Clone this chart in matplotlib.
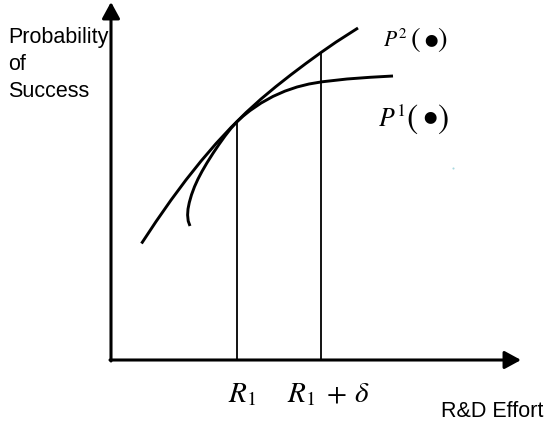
import matplotlib
matplotlib.use("Agg")
import matplotlib.pyplot as plt

plt.rcParams['mathtext.fontset'] = 'stix'
plt.rcParams['font.family'] = ['Liberation Sans', 'DejaVu Sans']

# R&D effort (x) and probability of success (y), diagram units
p2_effort = [30.5, 45, 60, 75, 90, 105, 120, 135, 150, 165, 180, 195, 210, 225, 247]
p2_prob = [116.5, 138.4, 159.9, 180.1, 198.9, 216.4, 232.5, 247.4, 261.0, 273.5,
           285.3, 296.6, 307.5, 317.9, 332]

p1_effort = [79, 77.2, 76.6, 77, 78.3, 80.5, 83.5, 87, 91, 96, 102, 108, 114, 120,
             126, 132, 139, 150, 162, 174, 186, 198, 211, 236, 259, 282]
p1_prob = [134, 139, 145, 151, 157.5, 165.2, 173.3, 181, 188.6, 197.2, 206.7, 215.6,
           224, 231.7, 238.3, 243.8, 249.4, 256.9, 263.6, 268.9, 273, 276, 278.2,
           281, 282.7, 284]

r_levels = [126, 210]
r_heights = [238.3, 307.5]
r_labels = [r'$R_1$', r'$R_1\;+\,\delta$']

x_max = 410
y_max = 358

fig = plt.figure(figsize=(5.48, 4.24), dpi=100)
ax = fig.add_axes([0, 0, 1, 1])
ax.set_xlim(-111, 437)
ax.set_ylim(-64, 360)
ax.axis('off')

arrow = dict(arrowstyle='-|>,head_length=0.55,head_width=0.3',
             lw=2.2, color='black', shrinkA=0, shrinkB=0, mutation_scale=18)
ax.annotate('', xy=(0, y_max), xytext=(0, -1), arrowprops=arrow)
ax.annotate('', xy=(x_max, 0), xytext=(-1, 0), arrowprops=arrow)

# curves
ax.plot(p2_effort, p2_prob, color='black', lw=2.1, solid_capstyle='butt')
ax.plot(p1_effort, p1_prob, color='black', lw=2.1, solid_capstyle='butt')

# vertical lines
for xv, hv in zip(r_levels, r_heights):
    ax.plot([xv, xv], [0, hv], color='black', lw=1.3)

# R labels
ax.text(r_levels[0] - 9, -42, r_labels[0], fontsize=21, ha='left', va='baseline')
ax.text(r_levels[1] - 34, -42, r_labels[1], fontsize=21, ha='left', va='baseline')

# curve labels P^2(.) and P^1(.)
def curve_label(x_p, y_base, sup, fs, paren_fs, paren_xs, paren_y, dot_x, dot_y, dot_fs):
    ax.text(x_p, y_base, r'$P^{%s}$' % sup, fontsize=fs, ha='left', va='baseline')
    ax.text(paren_xs[0], paren_y, r'$($', fontsize=paren_fs, ha='center', va='center')
    ax.text(paren_xs[1], paren_y, r'$)$', fontsize=paren_fs, ha='center', va='center')
    ax.text(dot_x, dot_y, '$\u25CF$', fontsize=dot_fs, ha='center', va='center')

curve_label(271.7, 313.3, '2', 15.5, 21, (304.5, 331.5), 321, 320, 318.8, 11.5)
curve_label(267, 233.3, '1', 18.5, 24.5, (301.5, 332), 241, 319.5, 242.2, 11.5)

ax.text(-103, 263, 'Probability\nof\nSuccess', fontsize=15.5, ha='left',
        va='baseline', linespacing=1.38)
ax.text(329.7, -57, 'R&D Effort', fontsize=15.5, ha='left', va='baseline')

ax.plot([342], [192], marker='o', ms=1.5, color='#a8d8e0', mec='none')

fig.savefig('out.png', dpi=100)
